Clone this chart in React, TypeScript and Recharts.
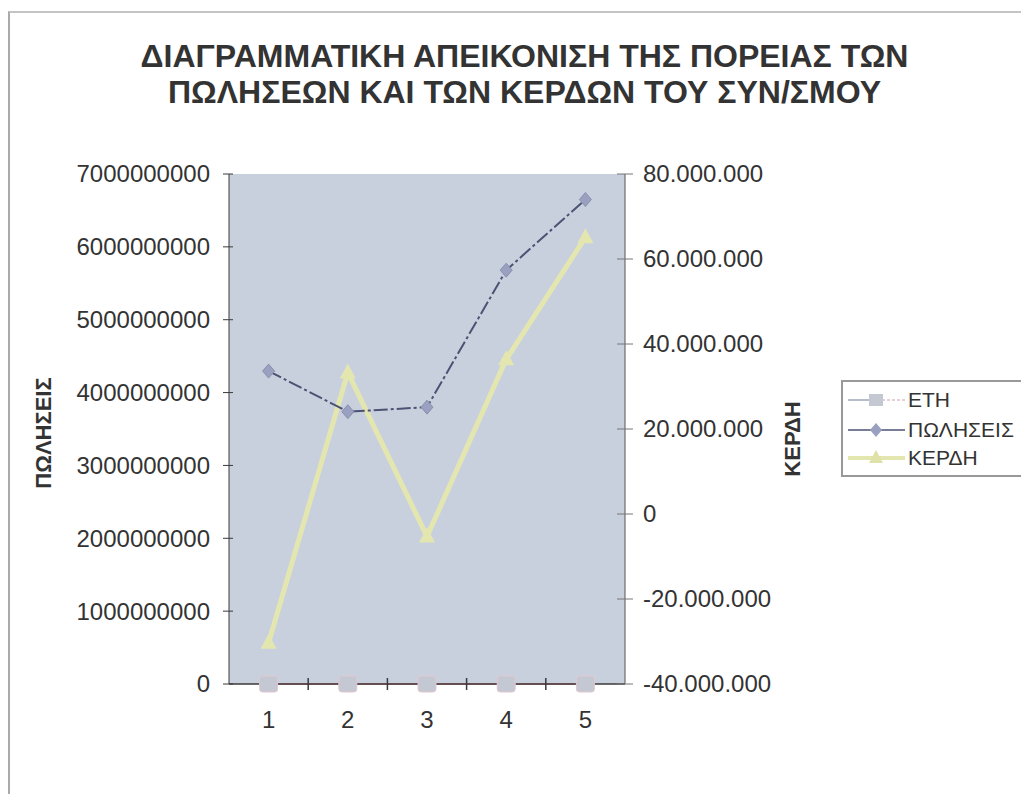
import React from "react";
import {
  LineChart,
  Line,
  XAxis,
  YAxis,
  CartesianGrid,
  Legend,
} from "recharts";

// values
const years = [1, 2, 3, 4, 5];
const sales = [4295000000, 3737000000, 3800000000, 5680000000, 6650000000];
const profits = [-30300000, 33300000, -5300000, 36400000, 65100000];

const salesTicks = [0, 1e9, 2e9, 3e9, 4e9, 5e9, 6e9, 7e9];
const profitTicks = [-40e6, -20e6, 0, 20e6, 40e6, 60e6, 80e6];
const xTicks = [1, 1.5, 2, 2.5, 3, 3.5, 4, 4.5, 5];

const titleLines = [
  "ΔΙΑΓΡΑΜΜΑΤΙΚΗ ΑΠΕΙΚΟΝΙΣΗ ΤΗΣ ΠΟΡΕΙΑΣ ΤΩΝ",
  "ΠΩΛΗΣΕΩΝ ΚΑΙ ΤΩΝ ΚΕΡΔΩΝ ΤΟΥ ΣΥΝ/ΣΜΟΥ",
];

const data = years.map((y, i) => ({
  year: y,
  eti: y,
  sales: sales[i],
  profit: profits[i],
}));

const FONT = "'Liberation Sans', Arial, sans-serif";
const TEXT = "#333";
const AXIS = "#3a3a3a";

const fmtDots = (v: number) =>
  v === 0 ? "0" : (v < 0 ? "-" : "") + Math.abs(v).toString().replace(/\B(?=(\d{3})+(?!\d))/g, ".");

const XTick = ({ x, y, payload }: any) => {
  const v = payload.value;
  if (Number.isInteger(v)) {
    return (
      <text x={x} y={y + 36} dy="0.35em" textAnchor="middle" fontSize={24} fill={TEXT} fontFamily={FONT}>
        {v}
      </text>
    );
  }
  return <line x1={x} x2={x} y1={y - 6} y2={y + 6} stroke={AXIS} strokeWidth={1.5} />;
};

const LeftTick = ({ x, y, payload }: any) => (
  <g>
    <line x1={x - 6} x2={x + 4} y1={y} y2={y} stroke={AXIS} />
    <text x={x - 19} y={y} dy="0.35em" textAnchor="end" fontSize={24} fill={TEXT} fontFamily={FONT}>
      {payload.value}
    </text>
  </g>
);

const RightTick = ({ x, y, payload }: any) => (
  <g>
    <line x1={x - 8} x2={x + 8} y1={y} y2={y} stroke="#777" />
    <text x={x + 18} y={y} dy="0.35em" textAnchor="start" fontSize={24} fill={TEXT} fontFamily={FONT}>
      {fmtDots(payload.value)}
    </text>
  </g>
);

const Diamond = ({ cx, cy }: any) =>
  cx == null ? null : (
    <path d={`M${cx},${cy - 7}L${cx + 6},${cy}L${cx},${cy + 7}L${cx - 6},${cy}Z`} fill="#9aa0bf" stroke="#8a90b0" />
  );

const Tri = ({ cx, cy }: any) =>
  cx == null ? null : (
    <path d={`M${cx},${cy - 9}L${cx + 8},${cy + 6}L${cx - 8},${cy + 6}Z`} fill="#e4e6b0" />
  );

const Square = ({ cx, cy }: any) =>
  cx == null ? null : (
    <rect x={cx - 9} y={cy - 8} width={18} height={16} rx={3} fill="#c3c8d2" stroke="#e2c8d0" />
  );

const LegendBox = () => (
  <svg width={190} height={97} style={{ display: "block" }}>
    <rect x={1} y={1} width={188} height={95} fill="#fff" stroke="#999" strokeWidth={2} />
    <line x1={7} x2={36} y1={20} y2={20} stroke="#b8bcc8" strokeWidth={2} />
    <line x1={36} x2={64} y1={20} y2={20} stroke="#c8a0b0" strokeWidth={1} strokeDasharray="3 2" />
    <rect x={28} y={14} width={14} height={12} fill="#c3c8d2" />
    <text x={67} y={20} dy="0.35em" fontSize={21} fill={TEXT} fontFamily={FONT}>ΕΤΗ</text>
    <line x1={7} x2={64} y1={50} y2={50} stroke="#4b5272" strokeWidth={1.5} />
    <path d="M35,43L41,50L35,57L29,50Z" fill="#9aa0bf" />
    <text x={67} y={50} dy="0.35em" fontSize={21} fill={TEXT} fontFamily={FONT}>ΠΩΛΗΣΕΙΣ</text>
    <line x1={7} x2={64} y1={78} y2={78} stroke="#e4e6b0" strokeWidth={4} />
    <path d="M35,70L42,83L28,83Z" fill="#dfe2a8" />
    <text x={67} y={78} dy="0.35em" fontSize={21} fill={TEXT} fontFamily={FONT}>ΚΕΡΔΗ</text>
  </svg>
);

const LeftLabel = ({ viewBox }: any) => {
  const x = viewBox.x;
  const y = viewBox.y + viewBox.height / 2 + 4;
  return (
    <text x={x} y={y} dy="0.35em" textAnchor="middle" transform={`rotate(-90, ${x}, ${y})`}
      fontSize={22} fontWeight="bold" fill={TEXT} fontFamily={FONT}>
      ΠΩΛΗΣΕΙΣ
    </text>
  );
};

const RightLabel = ({ viewBox }: any) => {
  const x = viewBox.x + 167;
  const y = viewBox.y + viewBox.height / 2 + 10;
  return (
    <text x={x} y={y} dy="0.35em" textAnchor="middle" transform={`rotate(-90, ${x}, ${y})`}
      fontSize={22} fontWeight="bold" fill={TEXT} fontFamily={FONT}>
      ΚΕΡΔΗ
    </text>
  );
};

export default function App() {
  return (
    <div style={{ paddingTop: 3 }}>
      <div style={{ position: "relative", width: 1021, height: 783, fontFamily: FONT }}>
        <div
          style={{
            position: "absolute",
            left: 0,
            top: 0,
            width: 1021,
            height: 783,
            boxSizing: "border-box",
            borderLeft: "2px solid #aaa",
            borderTop: "2px solid #c4c4c4",
          }}
        />
        <div
          style={{
            position: "absolute",
            left: 6,
            top: 27,
            width: 1021,
            textAlign: "center",
            fontSize: 32,
            lineHeight: "36px",
            fontWeight: "bold",
            color: TEXT,
          }}
        >
          {titleLines.map((t) => (
            <div key={t}>{t}</div>
          ))}
        </div>
        <LineChart
          width={1021}
          height={783}
          data={data}
          margin={{ top: 163, right: 224, bottom: 50, left: 35 }}
          style={{ position: "absolute", left: 0, top: 0 }}
        >
          <CartesianGrid fill="#c9d0dd" horizontal={false} vertical={false} />
          <XAxis
            dataKey="year"
            type="number"
            domain={[0.5, 5.5]}
            ticks={xTicks}
            interval={0}
            height={60}
            tickSize={0}
            tickMargin={0}
            tickLine={false}
            tick={<XTick />}
            stroke={AXIS}
            strokeWidth={1.5}
          />
          <YAxis
            yAxisId="left"
            domain={[0, 7e9]}
            ticks={salesTicks}
            interval={0}
            width={186}
            tickSize={0}
            tickMargin={0}
            tickLine={false}
            tick={<LeftTick />}
            stroke={AXIS}
            label={<LeftLabel />}
          />
          <YAxis
            yAxisId="right"
            orientation="right"
            domain={[-40e6, 80e6]}
            ticks={profitTicks}
            interval={0}
            width={180}
            tickSize={0}
            tickMargin={0}
            tickLine={false}
            tick={<RightTick />}
            stroke="#555"
            label={<RightLabel />}
          />
          <Legend
            layout="vertical"
            align="center"
            verticalAlign="middle"
            content={<LegendBox />}
            wrapperStyle={{ left: 833, top: 369, width: 190, height: 97 }}
          />
          <Line
            yAxisId="right"
            dataKey="profit"
            name="ΚΕΡΔΗ"
            stroke="#e4e6b0"
            strokeWidth={5}
            dot={<Tri />}
            activeDot={false}
            isAnimationActive={false}
          />
          <Line
            yAxisId="left"
            dataKey="sales"
            name="ΠΩΛΗΣΕΙΣ"
            stroke="#4b5272"
            strokeWidth={2}
            strokeDasharray="14 3 3 3"
            dot={<Diamond />}
            activeDot={false}
            isAnimationActive={false}
          />
          <Line
            yAxisId="left"
            dataKey="eti"
            name="ΕΤΗ"
            stroke="#e48a9c"
            strokeWidth={2}
            dot={<Square />}
            activeDot={false}
            isAnimationActive={false}
          />
        </LineChart>
      </div>
    </div>
  );
}
